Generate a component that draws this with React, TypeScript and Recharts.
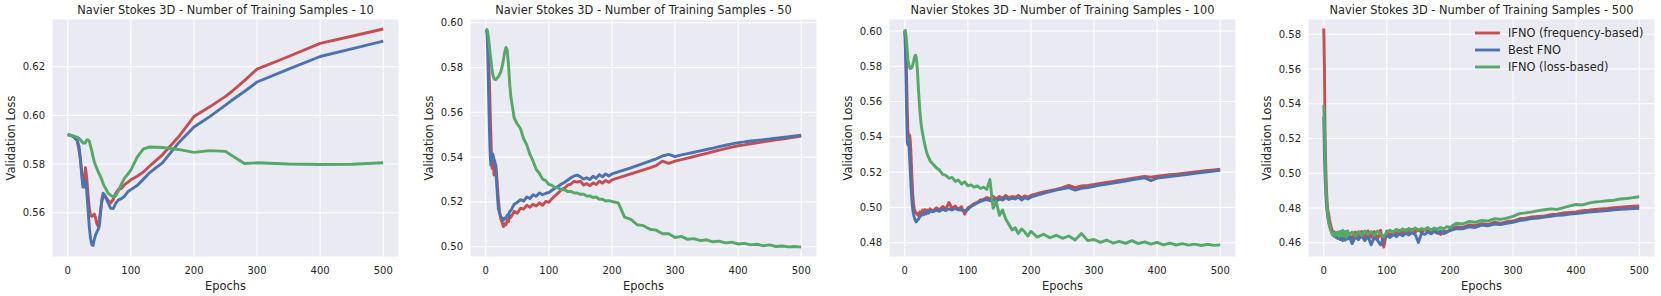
import { LineChart, Line, XAxis, YAxis, CartesianGrid, Legend, Label } from 'recharts';

const FONT = '"DejaVu Sans", sans-serif';
const INK = '#262626';

const X_TICKS = [0, 100, 200, 300, 400, 500];

// panel 1 (10 samples): smooth curves, sampled densely where they wiggle
const P1_EPOCHS = [0, 5, 10, 15, 18, 20, 22, 24, 26, 28, 30, 32, 34, 36, 38, 40, 42, 44, 46, 48, 50, 52, 54, 56, 58, 60, 64, 68, 72, 76, 80, 85, 90, 95, 100, 110, 120, 130, 140, 150, 175, 200, 225, 250, 260, 280, 300, 350, 400, 450, 500];
const P1_FREQ = [0.592, 0.5918, 0.5912, 0.5895, 0.5855, 0.582, 0.577, 0.5715, 0.5725, 0.5785, 0.5745, 0.568, 0.562, 0.559, 0.5585, 0.5588, 0.5595, 0.558, 0.5555, 0.5545, 0.557, 0.561, 0.5645, 0.5665, 0.567, 0.5665, 0.565, 0.564, 0.5655, 0.568, 0.5695, 0.570, 0.5715, 0.5725, 0.5735, 0.575, 0.5768, 0.5792, 0.5815, 0.5838, 0.591, 0.5995, 0.6035, 0.6078, 0.6098, 0.6143, 0.619, 0.6242, 0.6296, 0.6325, 0.6355];
const P1_FNO = [0.592, 0.5918, 0.591, 0.5898, 0.587, 0.582, 0.576, 0.5705, 0.5705, 0.5735, 0.569, 0.562, 0.5545, 0.5495, 0.547, 0.5465, 0.549, 0.5508, 0.552, 0.553, 0.5545, 0.560, 0.5655, 0.568, 0.5675, 0.5663, 0.564, 0.5618, 0.5617, 0.5638, 0.5652, 0.5658, 0.5668, 0.5686, 0.5695, 0.5712, 0.5738, 0.5765, 0.5785, 0.5805, 0.5885, 0.5952, 0.5995, 0.6042, 0.6062, 0.6098, 0.6137, 0.619, 0.6242, 0.6273, 0.6305];
const P1_LOSS = [0.5925, 0.5917, 0.5915, 0.591, 0.5905, 0.590, 0.5893, 0.5888, 0.5885, 0.5888, 0.5898, 0.590, 0.5895, 0.5875, 0.5855, 0.583, 0.581, 0.5795, 0.5783, 0.577, 0.5758, 0.5748, 0.5735, 0.572, 0.5708, 0.570, 0.568, 0.5672, 0.5665, 0.567, 0.5688, 0.5718, 0.5742, 0.5758, 0.5775, 0.5828, 0.5862, 0.587, 0.5869, 0.5868, 0.586, 0.5848, 0.5855, 0.5852, 0.5835, 0.5802, 0.5805, 0.580, 0.5798, 0.5799, 0.5805];

// panels 2-4 share one epoch grid
const EPOCHS = [
  0, 1, 2, 3, 4, 5, 6, 7, 8, 9, 10, 11, 12, 13, 14, 15, 16, 17, 18, 19, 20,
  22, 24, 26, 28, 30, 32, 34, 36, 38, 40,
  45, 50, 55, 60, 65, 70, 75, 80, 85, 90, 95, 100, 105, 110, 115, 120,
  125, 130, 135, 140, 145, 150, 155, 160, 165, 170, 175, 180, 185, 190, 195, 200,
  210, 220, 230, 240, 250, 260, 270, 280, 290, 300, 310, 320, 330, 340, 350,
  360, 370, 380, 390, 400, 410, 420, 430, 440, 450, 460, 470, 480, 490, 500,
];

const P2_FREQ = [
  0.597, 0.5968, 0.5965, 0.594, 0.589, 0.580, 0.5715, 0.560, 0.551, 0.541, 0.535, 0.5375, 0.5385, 0.532, 0.5335, 0.536, 0.5365, 0.533, 0.529, 0.5245, 0.521,
  0.5155, 0.5122, 0.5108, 0.509, 0.5102, 0.5098, 0.5118, 0.5112, 0.5138, 0.5132,
  0.5158, 0.5150, 0.5172, 0.5168, 0.5185, 0.5176, 0.5190, 0.5182, 0.5196, 0.5185, 0.5202, 0.5198, 0.5215, 0.5228, 0.524, 0.5255,
  0.5262, 0.5275, 0.528, 0.5292, 0.5288, 0.5293, 0.5275, 0.5282, 0.5272, 0.5285, 0.5278, 0.5292, 0.5284, 0.5296, 0.5288, 0.5298,
  0.5307, 0.5316, 0.5325, 0.5334, 0.5343, 0.5352, 0.5362, 0.5382, 0.5372, 0.5382, 0.5389, 0.5396, 0.5403, 0.541, 0.5417,
  0.5424, 0.5431, 0.5438, 0.5445, 0.5451, 0.5455, 0.546, 0.5464, 0.5468, 0.5473, 0.5477, 0.5481, 0.5485, 0.549, 0.5494,
];
const P2_FNO = [
  0.597, 0.5968, 0.595, 0.588, 0.575, 0.562, 0.550, 0.541, 0.5365, 0.539, 0.5408, 0.5415, 0.5405, 0.539, 0.5385, 0.537, 0.533, 0.529, 0.525, 0.5205, 0.517,
  0.5148, 0.5132, 0.5128, 0.5118, 0.5128, 0.5126, 0.5142, 0.5138, 0.5158, 0.5162,
  0.519, 0.5198, 0.5210, 0.5204, 0.5222, 0.5215, 0.5232, 0.5225, 0.5240, 0.5232, 0.5238, 0.5242, 0.5252, 0.5262, 0.527, 0.528,
  0.5288, 0.5298, 0.5308, 0.5316, 0.532, 0.5312, 0.5302, 0.5308, 0.5300, 0.5315, 0.5306, 0.5322, 0.5312, 0.5325, 0.5316, 0.5325,
  0.5334, 0.5343, 0.5352, 0.5362, 0.5372, 0.5382, 0.5392, 0.5405, 0.5412, 0.5402, 0.541, 0.5416, 0.5422, 0.5428, 0.5434,
  0.544, 0.5447, 0.5453, 0.5459, 0.5465, 0.5468, 0.5472, 0.5475, 0.5478, 0.5481, 0.5485, 0.5488, 0.5491, 0.5495, 0.5498,
];
const P2_LOSS = [
  0.5973, 0.5972, 0.5968, 0.5958, 0.594, 0.5915, 0.589, 0.5862, 0.584, 0.5812, 0.579, 0.5772, 0.576, 0.5752, 0.5748, 0.5746, 0.5747, 0.5750, 0.5753, 0.5756, 0.576,
  0.577, 0.5782, 0.5805, 0.5835, 0.5869, 0.589, 0.5878, 0.5815, 0.5725, 0.5665,
  0.5575, 0.5548, 0.5528, 0.5482, 0.5455, 0.5412, 0.5382, 0.5345, 0.5328, 0.5302, 0.5295, 0.5278, 0.5274, 0.5264, 0.5262, 0.5254,
  0.5254, 0.5246, 0.5247, 0.524, 0.5240, 0.5234, 0.5234, 0.5226, 0.5227, 0.522, 0.5222, 0.5212, 0.5212, 0.5204, 0.5206, 0.5202,
  0.5196, 0.5132, 0.5122, 0.5098, 0.5094, 0.5078, 0.5074, 0.5058, 0.5058, 0.5041, 0.5046, 0.5033, 0.5036, 0.5027, 0.5031,
  0.5022, 0.5025, 0.5017, 0.502, 0.5012, 0.5015, 0.5008, 0.5011, 0.5004, 0.5008, 0.5001, 0.5003, 0.4999, 0.5001, 0.4998,
];

const P3_FREQ = [
  0.600, 0.597, 0.588, 0.572, 0.555, 0.543, 0.540, 0.5412, 0.5405, 0.5365, 0.529, 0.5205, 0.512, 0.5055, 0.5015, 0.4995, 0.498, 0.4972, 0.4968, 0.4962, 0.4965,
  0.4952, 0.4975, 0.4958, 0.4985, 0.4968, 0.4988, 0.4962, 0.4985, 0.4975, 0.4992,
  0.4978, 0.4998, 0.4986, 0.5005, 0.4992, 0.5028, 0.4995, 0.5008, 0.4990, 0.5004, 0.4962, 0.4998, 0.5008, 0.5022, 0.5028, 0.5042,
  0.5046, 0.5056, 0.505, 0.5062, 0.5048, 0.5062, 0.5052, 0.5068, 0.5055, 0.5062, 0.5058, 0.5068, 0.5055, 0.5065, 0.5058, 0.5068,
  0.5078, 0.5088, 0.5095, 0.5102, 0.5112, 0.5125, 0.5112, 0.5122, 0.5125, 0.513, 0.5136, 0.5142, 0.5147, 0.5153, 0.5158,
  0.5164, 0.517, 0.5176, 0.5172, 0.5177, 0.5181, 0.5185, 0.5189, 0.5193, 0.5197, 0.5201, 0.5205, 0.5209, 0.5213, 0.5216,
];
const P3_FNO = [
  0.600, 0.590, 0.572, 0.552, 0.537, 0.5355, 0.5375, 0.533, 0.526, 0.5185, 0.511, 0.5055, 0.501, 0.498, 0.496, 0.4945, 0.4932, 0.4925, 0.4918, 0.4922, 0.4928,
  0.4935, 0.4948, 0.4955, 0.4962, 0.4958, 0.4972, 0.4968, 0.4975, 0.4968, 0.498,
  0.4975, 0.4985, 0.4978, 0.499, 0.4982, 0.4992, 0.4985, 0.4994, 0.4986, 0.4985, 0.4982, 0.4988, 0.5005, 0.5015, 0.5025, 0.5035,
  0.504, 0.5045, 0.5038, 0.5048, 0.5035, 0.5048, 0.5042, 0.5055, 0.5045, 0.5052, 0.5048, 0.5058, 0.5042, 0.5055, 0.5048, 0.5058,
  0.507, 0.508, 0.509, 0.5098, 0.5105, 0.5112, 0.5098, 0.5108, 0.5112, 0.512, 0.5126, 0.5132, 0.5138, 0.5144, 0.515,
  0.5156, 0.5162, 0.5168, 0.5152, 0.5166, 0.517, 0.5175, 0.5179, 0.5184, 0.5188, 0.5193, 0.5197, 0.5202, 0.5206, 0.521,
];
const P3_LOSS = [
  0.601, 0.5998, 0.5975, 0.5935, 0.5885, 0.5840, 0.5815, 0.580, 0.5790, 0.5787, 0.5788, 0.5792, 0.5800, 0.5815, 0.5828, 0.5845, 0.5858, 0.5863, 0.5855, 0.5825, 0.5778,
  0.5650, 0.5545, 0.5468, 0.5425, 0.5385, 0.5352, 0.5322, 0.5298, 0.5282, 0.5265,
  0.5245, 0.5225, 0.5212, 0.5188, 0.5182, 0.5165, 0.517, 0.5148, 0.5155, 0.5132, 0.5145, 0.5122, 0.5128, 0.5115, 0.5122, 0.5108,
  0.5115, 0.5102, 0.5158, 0.4995, 0.5035, 0.4955, 0.4985, 0.4935, 0.4905, 0.4872, 0.4885, 0.4852, 0.4878, 0.4862, 0.4838, 0.4865,
  0.4832, 0.4848, 0.4828, 0.4842, 0.4825, 0.4838, 0.4815, 0.4852, 0.4812, 0.4818, 0.4802, 0.4815, 0.4798, 0.4808, 0.4796,
  0.4812, 0.4795, 0.4805, 0.4792, 0.4802, 0.4788, 0.4798, 0.4787, 0.4795, 0.4786, 0.4792, 0.4784, 0.4791, 0.4785, 0.4788,
];

const P4_FREQ = [
  0.5833, 0.562, 0.5238, 0.506, 0.493, 0.4855, 0.480, 0.4775, 0.4758, 0.4735, 0.4715, 0.4702, 0.4688, 0.4672, 0.4668, 0.4655, 0.4662, 0.4648, 0.466, 0.4645, 0.4655,
  0.4635, 0.466, 0.4628, 0.4652, 0.4618, 0.4655, 0.4625, 0.4662, 0.4632, 0.4648,
  0.4625, 0.4662, 0.4638, 0.4665, 0.4628, 0.4668, 0.4632, 0.4665, 0.4618, 0.4672, 0.4575, 0.4668, 0.4642, 0.4665, 0.4652, 0.4672,
  0.4655, 0.4675, 0.4658, 0.4678, 0.4662, 0.4675, 0.466, 0.4678, 0.4665, 0.4672, 0.4668, 0.4662, 0.4648, 0.4668, 0.4662, 0.4675,
  0.4692, 0.4688, 0.4702, 0.4698, 0.471, 0.4705, 0.4718, 0.4712, 0.4722, 0.4725, 0.4738, 0.4742, 0.4748, 0.4752, 0.4755,
  0.4762, 0.4765, 0.4772, 0.4775, 0.4778, 0.4785, 0.4788, 0.4792, 0.4795, 0.4798, 0.4802, 0.4805, 0.4808, 0.481, 0.4812,
];
const P4_FNO = [
  0.5325, 0.512, 0.498, 0.489, 0.483, 0.479, 0.4762, 0.4735, 0.4715, 0.470, 0.4688, 0.4678, 0.4665, 0.4658, 0.465, 0.4645, 0.4652, 0.4638, 0.4645, 0.4632, 0.4642,
  0.4625, 0.4645, 0.4618, 0.4638, 0.4612, 0.4635, 0.4615, 0.4638, 0.4622, 0.4642,
  0.4595, 0.4635, 0.4618, 0.4642, 0.4612, 0.4638, 0.4588, 0.4632, 0.4615, 0.4588, 0.4628, 0.4642, 0.463, 0.4648, 0.4635, 0.4652,
  0.464, 0.4655, 0.4645, 0.4658, 0.4648, 0.4602, 0.4655, 0.4648, 0.4662, 0.4652, 0.4665, 0.4655, 0.4668, 0.4652, 0.4662, 0.467,
  0.4682, 0.468, 0.4692, 0.4688, 0.4702, 0.4698, 0.4708, 0.4705, 0.4712, 0.4718, 0.4728, 0.4732, 0.474, 0.4742, 0.4748,
  0.4752, 0.4758, 0.476, 0.4765, 0.4768, 0.4772, 0.4776, 0.478, 0.4782, 0.4786, 0.4789, 0.4792, 0.4794, 0.4797, 0.4798,
];
const P4_LOSS = [
  0.5393, 0.528, 0.510, 0.4965, 0.488, 0.482, 0.4775, 0.474, 0.4715, 0.470, 0.4685, 0.4672, 0.4662, 0.4652, 0.4645, 0.4652, 0.4638, 0.4655, 0.4642, 0.466, 0.4645,
  0.4662, 0.4635, 0.4665, 0.464, 0.4672, 0.4638, 0.4665, 0.4632, 0.4668, 0.4645,
  0.4662, 0.4638, 0.4665, 0.4642, 0.4668, 0.4648, 0.4665, 0.4642, 0.4668, 0.465, 0.4635, 0.4662, 0.4672, 0.466, 0.4678, 0.4665,
  0.468, 0.4668, 0.4682, 0.467, 0.4685, 0.4672, 0.4682, 0.4675, 0.4688, 0.4672, 0.4685, 0.4678, 0.4688, 0.468, 0.4692, 0.4688,
  0.4712, 0.4708, 0.4722, 0.4718, 0.4728, 0.4725, 0.4738, 0.4735, 0.4742, 0.4752, 0.4768, 0.4772, 0.4778, 0.4785, 0.479,
  0.4795, 0.4792, 0.4802, 0.4812, 0.482, 0.4818, 0.4828, 0.4835, 0.4838, 0.4842, 0.4845, 0.4852, 0.4855, 0.486, 0.4865,
];

const SERIES = [
  { key: 'freq', name: 'IFNO (frequency-based)', color: '#C44E52' },
  { key: 'fno', name: 'Best FNO', color: '#4C72B0' },
  { key: 'loss', name: 'IFNO (loss-based)', color: '#55A868' },
];

const PANELS = [
  { samples: 10, epochs: P1_EPOCHS, freq: P1_FREQ, fno: P1_FNO, loss: P1_LOSS, yDomain: [0.5418, 0.6396], yTicks: [0.56, 0.58, 0.6, 0.62], left: 0 },
  { samples: 50, epochs: EPOCHS, freq: P2_FREQ, fno: P2_FNO, loss: P2_LOSS, yDomain: [0.4954, 0.6017], yTicks: [0.5, 0.52, 0.54, 0.56, 0.58, 0.6], left: 418 },
  { samples: 100, epochs: EPOCHS, freq: P3_FREQ, fno: P3_FNO, loss: P3_LOSS, yDomain: [0.4719, 0.6068], yTicks: [0.48, 0.5, 0.52, 0.54, 0.56, 0.58, 0.6], left: 837 },
  { samples: 500, epochs: EPOCHS, freq: P4_FREQ, fno: P4_FNO, loss: P4_LOSS, yDomain: [0.4518, 0.5888], yTicks: [0.46, 0.48, 0.5, 0.52, 0.54, 0.56, 0.58], left: 1256 },
];

const W = 399;
const H = 296;
const Y_W = 52;
const LINE_W = 2.9;

function YTitle({ viewBox }: any) {
  const cx = viewBox.x + 10.5;
  const cy = viewBox.y + viewBox.height / 2;
  return (
    <text x={cx} y={cy} transform={`rotate(-90 ${cx} ${cy})`} textAnchor="middle" dominantBaseline="central" fill={INK} fontSize={11.4} fontFamily={FONT}>
      Validation Loss
    </text>
  );
}

function LegendBox() {
  return (
    <div style={{ fontFamily: FONT, fontSize: 11.4, color: INK }}>
      {SERIES.map((s) => (
        <div key={s.key} style={{ display: 'flex', alignItems: 'center', height: 16.7, whiteSpace: 'nowrap' }}>
          <svg width={25} height={6} style={{ marginRight: 8 }}>
            <line x1={0} x2={25} y1={3} y2={3} stroke={s.color} strokeWidth={LINE_W} />
          </svg>
          {s.name}
        </div>
      ))}
    </div>
  );
}

function Panel({ p, legend }: { p: (typeof PANELS)[number]; legend: boolean }) {
  const rows = p.epochs.map((epoch, i) => ({ epoch, freq: p.freq[i], fno: p.fno[i], loss: p.loss[i] }));
  return (
    <div style={{ position: 'absolute', left: p.left, top: 0, width: W, height: H }}>
      <div style={{ position: 'absolute', left: Y_W, width: W - Y_W, top: 3, textAlign: 'center', fontFamily: FONT, fontSize: 11.4, lineHeight: '14px', color: INK, whiteSpace: 'nowrap' }}>
        Navier Stokes 3D - Number of Training Samples - {p.samples}
      </div>
      <LineChart width={W} height={H} data={rows} margin={{ top: 19, right: 0, bottom: 0, left: 0 }}>
        <CartesianGrid fill="#EAEAF2" stroke="#ffffff" strokeWidth={1.1} />
        <XAxis
          dataKey="epoch"
          type="number"
          domain={[-25, 525]}
          ticks={X_TICKS}
          allowDataOverflow
          height={39}
          axisLine={false}
          tickLine={false}
          tickSize={0}
          tickMargin={10}
          tick={{ fill: INK, fontSize: 10, fontFamily: FONT }}
        >
          <Label value="Epochs" position="insideBottom" offset={6} fill={INK} fontSize={11.4} fontFamily={FONT} />
        </XAxis>
        <YAxis
          type="number"
          domain={p.yDomain}
          ticks={p.yTicks}
          allowDataOverflow
          width={Y_W}
          axisLine={false}
          tickLine={false}
          tickSize={0}
          tickMargin={7}
          tickFormatter={(v: number) => v.toFixed(2)}
          tick={{ fill: INK, fontSize: 10, fontFamily: FONT }}
        >
          <Label content={YTitle} />
        </YAxis>
        {legend && (
          <Legend layout="vertical" align="center" verticalAlign="middle" wrapperStyle={{ top: 25, left: 219, width: 'auto' }} content={LegendBox} />
        )}
        {SERIES.map((s) => (
          <Line
            key={s.key}
            type="linear"
            dataKey={s.key}
            name={s.name}
            stroke={s.color}
            strokeWidth={LINE_W}
            strokeLinejoin="round"
            dot={false}
            activeDot={false}
            isAnimationActive={false}
          />
        ))}
      </LineChart>
    </div>
  );
}

export default function App() {
  return (
    <div style={{ position: 'absolute', left: 0, top: 0, width: 1661, height: 296, background: '#ffffff', overflow: 'hidden' }}>
      {PANELS.map((p, i) => (
        <Panel key={p.samples} p={p} legend={i === PANELS.length - 1} />
      ))}
    </div>
  );
}
